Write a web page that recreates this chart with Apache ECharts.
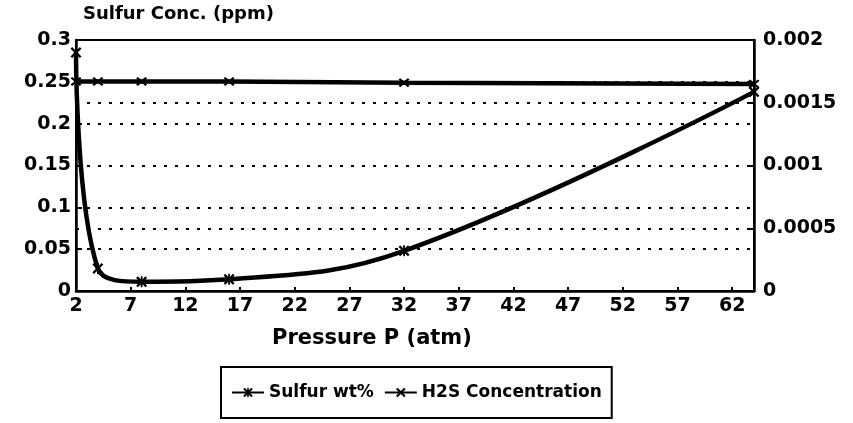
<!DOCTYPE html>
<html>
<head>
<meta charset="utf-8">
<script src="https://cdn.jsdelivr.net/npm/echarts@6/dist/echarts.min.js"></script>
<style>
html,body{margin:0;padding:0;background:#fff;}
#chart{width:853px;height:423px;}
</style>
</head>
<body>
<div id="chart"></div>
<script>
// ---- data ----
var pressure = [2, 4, 8, 16, 32, 64];
var sulfurWt = [0.285, 0.027, 0.011, 0.014, 0.048, 0.238];
var h2sConc = [0.00167, 0.00167, 0.00167, 0.00167, 0.00166, 0.00165];
var xTickLabels = [2, 7, 12, 17, 22, 27, 32, 37, 42, 47, 52, 57, 62];
var leftTickLabels = ['0', '0.05', '0.1', '0.15', '0.2', '0.25', '0.3'];
var rightTickLabels = ['0', '0.0005', '0.001', '0.0015', '0.002'];
var seriesNames = ['Sulfur wt%', 'H2S Concentration'];
var leftAxisTitle = 'Sulfur Conc. (ppm)';
var xAxisTitle = 'Pressure P (atm)';

var FONT = 'DejaVu Sans';
var starPath = 'path://M0,0.15 L0.15,0 L0.5,0.35 L0.85,0 L1,0.15 L0.65,0.5 L1,0.85 L0.85,1 L0.5,0.65 L0.15,1 L0,0.85 L0.35,0.5 Z M0.42,0 L0.58,0 L0.58,1 L0.42,1 Z';
var xPath = 'path://M0,0.15 L0.15,0 L0.5,0.35 L0.85,0 L1,0.15 L0.65,0.5 L1,0.85 L0.85,1 L0.5,0.65 L0.15,1 L0,0.85 L0.35,0.5 Z';

function pairs(xs, ys) { return xs.map(function (x, i) { return [x, ys[i]]; }); }

var chart = echarts.init(document.getElementById('chart'), null, {renderer: 'canvas'});
var labelStyle = {color: '#000', fontFamily: FONT, fontWeight: 'bold', fontSize: 19};

chart.setOption({
  backgroundColor: '#fff',
  animation: false,
  title: [
    {text: leftAxisTitle, left: 83, top: 5, padding: 0,
     textStyle: {color: '#000', fontFamily: FONT, fontWeight: 'bold', fontSize: 18}},
    {text: xAxisTitle, left: 272, top: 328, padding: 0,
     textStyle: {color: '#000', fontFamily: FONT, fontWeight: 'bold', fontSize: 21}}
  ],
  grid: {left: 76, right: 99, top: 40, bottom: 132, show: true,
         borderColor: '#000', borderWidth: 2, backgroundColor: 'transparent',
         containLabel: false, outerBoundsMode: 'none'},
  legend: {
    data: seriesNames,
    left: 221, top: 367,
    padding: [17, 10],
    itemGap: 10,
    itemWidth: 32, itemHeight: 12,
    borderColor: '#000', borderWidth: 2,
    textStyle: {color: '#000', fontFamily: FONT, fontWeight: 'bold', fontSize: 17}
  },
  xAxis: {
    type: 'value', min: 2, max: 64,
    axisLine: {show: true, lineStyle: {color: '#000', width: 2.5}},
    axisTick: {show: true, inside: true, length: 4, customValues: xTickLabels,
               lineStyle: {color: '#000', width: 2}},
    axisLabel: Object.assign({margin: 6, customValues: xTickLabels}, labelStyle),
    splitLine: {show: false}
  },
  yAxis: [
    {
      type: 'value', min: 0, max: 0.3, interval: 0.05, position: 'left',
      axisLine: {show: true, lineStyle: {color: '#000', width: 2.5}},
      axisTick: {show: true, inside: true, length: 6, lineStyle: {color: '#000', width: 2}},
      axisLabel: Object.assign({margin: 5, formatter: function (v) {
        return leftTickLabels[Math.round(v / 0.05)]; }}, labelStyle),
      splitLine: {show: true, lineStyle: {color: '#000', width: 2, type: [3, 8]}}
    },
    {
      type: 'value', min: 0, max: 0.002, interval: 0.0005, position: 'right',
      axisLine: {show: true, lineStyle: {color: '#000', width: 2.5}},
      axisTick: {show: true, inside: true, length: 6, lineStyle: {color: '#000', width: 2}},
      axisLabel: Object.assign({margin: 9, formatter: function (v) {
        return rightTickLabels[Math.round(v / 0.0005)]; }}, labelStyle),
      splitLine: {show: true, lineStyle: {color: '#000', width: 2, type: [3, 8]}}
    }
  ],
  series: [
    {
      name: seriesNames[0], type: 'line', yAxisIndex: 0,
      data: pairs(pressure, sulfurWt),
      smooth: 0.4,
      symbol: starPath, symbolSize: 11,
      lineStyle: {color: '#000', width: 4.5},
      itemStyle: {color: '#000'},
      z: 3
    },
    {
      name: seriesNames[1], type: 'line', yAxisIndex: 1,
      data: pairs(pressure, h2sConc),
      smooth: false,
      symbol: xPath, symbolSize: [11, 9],
      lineStyle: {color: '#000', width: 4.5},
      itemStyle: {color: '#000'},
      z: 3
    }
  ]
});
</script>
</body>
</html>
